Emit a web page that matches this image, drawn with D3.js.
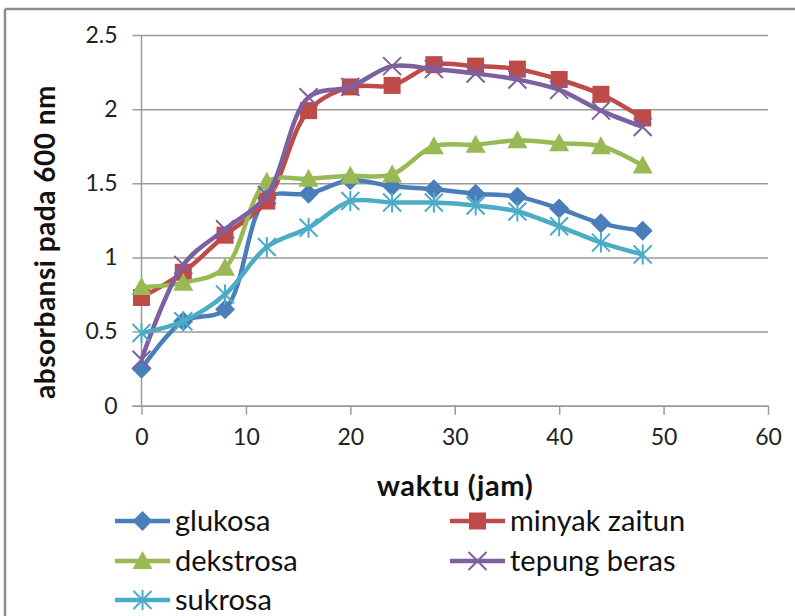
<!DOCTYPE html>
<html>
<head>
<meta charset="utf-8">
<script src="https://cdn.jsdelivr.net/npm/d3@7"></script>
<style>
  html, body { margin: 0; padding: 0; background: #fff; }
  svg { display: block; font-family: Lato, "Open Sans", sans-serif; }
</style>
</head>
<body>
<svg id="chart" width="795" height="616"></svg>
<script>
// Sampling times (hours)
const hours = [0, 4, 8, 12, 16, 20, 24, 28, 32, 36, 40, 44, 48];

// Absorbance at 600 nm per carbon source
const glukosa      = [0.25, 0.57, 0.65, 1.40, 1.43, 1.52, 1.48, 1.46, 1.43, 1.41, 1.33, 1.23, 1.18];
const minyakZaitun = [0.73, 0.90, 1.15, 1.38, 1.99, 2.15, 2.16, 2.30, 2.29, 2.27, 2.20, 2.10, 1.94];
const dekstrosa    = [0.80, 0.83, 0.93, 1.51, 1.53, 1.55, 1.56, 1.75, 1.76, 1.79, 1.77, 1.75, 1.62];
const tepungBeras  = [0.31, 0.95, 1.19, 1.42, 2.08, 2.15, 2.29, 2.27, 2.24, 2.20, 2.13, 1.99, 1.88];
const sukrosa      = [0.49, 0.57, 0.75, 1.07, 1.20, 1.38, 1.37, 1.37, 1.35, 1.31, 1.21, 1.10, 1.02];

const seriesNames = ["glukosa", "minyak zaitun", "dekstrosa", "tepung beras", "sukrosa"];
const xTicks = [0, 10, 20, 30, 40, 50, 60];
const yTicks = [0, 0.5, 1, 1.5, 2, 2.5];
const yTickLabels = ["0", "0.5", "1", "1.5", "2", "2.5"];

const series = [
  { name: seriesNames[0], values: glukosa,      color: "#4A7EBB", marker: "diamond" },
  { name: seriesNames[1], values: minyakZaitun, color: "#BE4B48", marker: "square" },
  { name: seriesNames[2], values: dekstrosa,    color: "#98B954", marker: "triangle" },
  { name: seriesNames[3], values: tepungBeras,  color: "#7D60A0", marker: "cross" },
  { name: seriesNames[4], values: sukrosa,      color: "#4BACC6", marker: "star" }
];

const svg = d3.select("#chart");

// Chart-area border (top and left edges)
svg.append("line").attr("x1", 5).attr("x2", 795).attr("y1", 9).attr("y2", 9)
  .attr("stroke", "#8c8c8c").attr("stroke-width", 2.5);
svg.append("line").attr("x1", 5).attr("x2", 5).attr("y1", 9).attr("y2", 616)
  .attr("stroke", "#8c8c8c").attr("stroke-width", 2.5);

const plot = { left: 141.5, right: 768, top: 35, bottom: 405.7 };

const x = d3.scaleLinear().domain([0, 60]).range([plot.left, plot.right]);
const y = d3.scaleLinear().domain([0, 2.5]).range([plot.bottom, plot.top]);

// Horizontal gridlines with outside tick stubs (y axis)
const yAxis = d3.axisLeft(y)
  .tickValues(yTicks)
  .tickSize(-(plot.right - plot.left))
  .tickFormat((d, i) => yTickLabels[i]);
const gy = svg.append("g").attr("transform", `translate(${plot.left},0)`).call(yAxis);
gy.select(".domain").remove();
gy.selectAll(".tick line").attr("stroke", "#9a9a9a").attr("stroke-width", 1.5)
  .attr("x1", -9);
gy.selectAll(".tick text").attr("font-size", 23).attr("fill", "#222")
  .attr("font-family", "Lato, sans-serif").attr("x", -24);

// Vertical axis line
svg.append("line").attr("x1", plot.left).attr("x2", plot.left)
  .attr("y1", plot.top).attr("y2", plot.bottom)
  .attr("stroke", "#9a9a9a").attr("stroke-width", 1.5);

// Horizontal axis with ticks
const xAxis = d3.axisBottom(x).tickValues(xTicks).tickSize(9).tickPadding(14).tickFormat(d3.format("d"));
const gx = svg.append("g").attr("transform", `translate(0,${plot.bottom})`).call(xAxis);
gx.select(".domain").attr("stroke", "#9a9a9a").attr("stroke-width", 1.5)
  .attr("d", `M${plot.left - 9},0.5H${plot.right}`);
gx.selectAll(".tick line").attr("stroke", "#9a9a9a").attr("stroke-width", 1.5);
gx.selectAll(".tick text").attr("font-size", 23).attr("fill", "#222")
  .attr("font-family", "Lato, sans-serif");

// Axis titles
svg.append("text").attr("x", 455).attr("y", 496).attr("text-anchor", "middle")
  .attr("font-size", 29).attr("font-weight", "bold").attr("fill", "#111")
  .attr("letter-spacing", 0.6)
  .text("waktu (jam)");
svg.append("text").attr("transform", "translate(55,242) rotate(-90)")
  .attr("text-anchor", "middle").attr("font-size", 28).attr("font-weight", "bold")
  .attr("fill", "#111").attr("letter-spacing", 0.5).text("absorbansi pada 600 nm");

// Marker drawing
function drawMarker(g, type, color, size) {
  const s = size / 2;
  if (type === "diamond") {
    g.append("path").attr("d", `M0,${-s}L${s},0L0,${s}L${-s},0Z`).attr("fill", color);
  } else if (type === "square") {
    const h = s * 0.85;
    g.append("rect").attr("x", -h).attr("y", -h).attr("width", 2 * h).attr("height", 2 * h).attr("fill", color);
  } else if (type === "triangle") {
    g.append("path").attr("d", `M0,${-s}L${s},${s * 0.8}L${-s},${s * 0.8}Z`).attr("fill", color);
  } else if (type === "cross") {
    const h = s * 0.9;
    g.append("path").attr("d", `M${-h},${-h}L${h},${h}M${h},${-h}L${-h},${h}`)
      .attr("stroke", color).attr("stroke-width", 2).attr("fill", "none");
  } else if (type === "star") {
    const h = s * 0.9;
    g.append("path").attr("d", `M${-h},${-h}L${h},${h}M${h},${-h}L${-h},${h}M0,${-s}L0,${s}`)
      .attr("stroke", color).attr("stroke-width", 2).attr("fill", "none");
  }
}

const line = d3.line()
  .x((d, i) => x(hours[i]))
  .y(d => y(d))
  .curve(d3.curveCatmullRom.alpha(0.5));

const plotG = svg.append("g");
series.forEach(s => {
  const g = plotG.append("g");
  g.append("path").attr("d", line(s.values)).attr("fill", "none")
    .attr("stroke", s.color).attr("stroke-width", 4.5).attr("stroke-linejoin", "round");
  s.values.forEach((v, i) => {
    const m = g.append("g").attr("transform", `translate(${x(hours[i])},${y(v)})`);
    drawMarker(m, s.marker, s.color, 20);
  });
});

// Legend (two columns)
const legendPos = [
  { lx: 115, ly: 521 }, { lx: 450, ly: 521 },
  { lx: 115, ly: 561 }, { lx: 450, ly: 561 },
  { lx: 115, ly: 600 }
];
series.forEach((s, i) => {
  const p = legendPos[i];
  const g = svg.append("g").attr("transform", `translate(${p.lx},${p.ly})`);
  g.append("line").attr("x1", 0).attr("x2", 55).attr("y1", 0).attr("y2", 0)
    .attr("stroke", s.color).attr("stroke-width", 4.5);
  const m = g.append("g").attr("transform", "translate(27.5,0)");
  drawMarker(m, s.marker, s.color, 20);
  g.append("text").attr("x", 60).attr("y", 0).attr("dy", "0.35em")
    .attr("font-size", 29).attr("fill", "#111").text(s.name);
});
</script>
</body>
</html>
